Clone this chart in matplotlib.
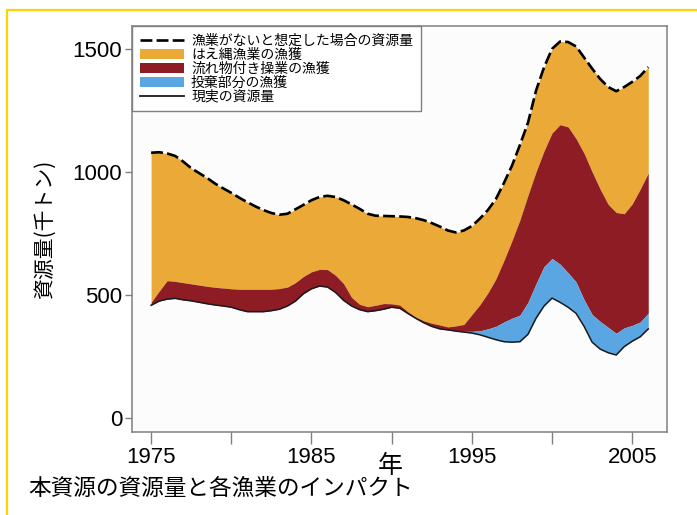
"""
Stacked biomass / catch impact chart (Japanese labels).
"""

import numpy as np
import matplotlib
matplotlib.use("Agg")
import matplotlib.pyplot as plt
from matplotlib.patches import Rectangle, Patch
from matplotlib.lines import Line2D

JP_FONT = ["Noto Sans CJK JP", "DejaVu Sans"]
NUM_FONT = ["Liberation Sans", "DejaVu Sans"]

# --- data (thousand tonnes), half-year steps ---
years = np.arange(1975.0, 2006.01, 0.5)

biomass_unfished = [
    1078, 1080, 1075, 1065, 1042, 1015, 995, 975, 952, 933,
    915, 895, 877, 860, 845, 833, 826, 830, 848, 866,
    885, 898, 903, 898, 885, 868, 850, 830, 822, 821,
    820, 819, 817, 812, 804, 792, 778, 762, 754, 762,
    780, 810, 845, 890, 955, 1025, 1110, 1200, 1330, 1425,
    1500, 1530, 1528, 1510, 1465, 1420, 1378, 1345, 1328, 1345,
    1366, 1390, 1426,
]

# upper edge of the drifting-object (FAD) purse seine catch
upper_fad = [
    470, 515, 558, 555, 550, 545, 540, 535, 531, 528,
    525, 523, 523, 523, 523, 523, 526, 532, 550, 575,
    594, 604, 603, 580, 546, 490, 462, 452, 458, 465,
    464, 459, 432, 410, 395, 385, 378, 370, 374, 380,
    420, 460, 508, 565, 640, 720, 805, 905, 1000, 1085,
    1158, 1192, 1183, 1135, 1075, 1000, 930, 868, 835, 830,
    870, 930, 995,
]

# upper edge of the discarded catch
upper_discard = [
    458, 475, 483, 486, 480, 476, 470, 464, 459, 455,
    450, 440, 432, 432, 432, 436, 442, 455, 475, 505,
    525, 536, 532, 510, 478, 455, 440, 432, 436, 442,
    450, 446, 425, 405, 387, 372, 362, 358, 353, 352,
    352, 354, 362, 372, 390, 405, 418, 470, 545, 615,
    648, 625, 590, 552, 480, 420, 392, 368, 344, 366,
    376, 390, 426,
]

biomass_actual = [
    458, 475, 483, 486, 480, 476, 470, 464, 459, 455,
    450, 440, 432, 432, 432, 436, 442, 455, 475, 505,
    525, 536, 532, 510, 478, 455, 440, 432, 436, 442,
    450, 446, 425, 405, 387, 372, 362, 358, 353, 349,
    345, 338, 328, 318, 310, 308, 310, 340, 405, 455,
    487, 470, 450, 425, 372, 308, 280, 265, 256, 290,
    312, 330, 362,
]

legend_labels = [
    "漁業がないと想定した場合の資源量",
    "はえ縄漁業の漁獲",
    "流れ物付き操業の漁獲",
    "投棄部分の漁獲",
    "現実の資源量",
]
y_ticks = [0, 500, 1000, 1500]
x_ticks = [1975, 1980, 1985, 1990, 1995, 2000, 2005]
x_tick_labels = ["1975", "", "1985", "", "1995", "", "2005"]

C_LONGLINE = "#EBA937"
C_FAD = "#8E1C24"
C_DISCARD = "#5AA6E2"
C_SPINE = "#808080"

fig = plt.figure(figsize=(6.97, 5.15), dpi=100)
ax = fig.add_axes([0.1894, 0.1612, 0.7676, 0.7883])

ax.fill_between(years, upper_fad, biomass_unfished, color=C_LONGLINE, lw=0)
ax.fill_between(years, upper_discard, upper_fad, color=C_FAD, lw=0)
ax.fill_between(years, biomass_actual, upper_discard, color=C_DISCARD, lw=0)
ax.plot(years, biomass_actual, color="#1a1a1a", lw=1.1)
ax.plot(years, biomass_unfished, color="black", lw=1.9, dashes=(4.5, 1.6))

ax.set_xlim(1973.81, 2007.17)
ax.set_ylim(-57, 1593)
ax.set_facecolor("#fcfcfc")

ax.set_yticks(y_ticks)
ax.set_yticklabels([str(v) for v in y_ticks])
ax.set_xticks(x_ticks)
ax.set_xticklabels(x_tick_labels)
ax.tick_params(axis="y", length=5, width=1, color=C_SPINE, pad=2,
               labelsize=16)
ax.tick_params(axis="x", length=8.5, width=1, color=C_SPINE, pad=2,
               labelsize=16)
for lab in ax.get_xticklabels() + ax.get_yticklabels():
    lab.set_family(NUM_FONT)
for sp in ax.spines.values():
    sp.set_color(C_SPINE)
    sp.set_linewidth(1.1)

handles = [
    Line2D([], [], color="black", lw=1.9, dashes=(4.5, 1.6)),
    Patch(facecolor=C_LONGLINE),
    Patch(facecolor=C_FAD),
    Patch(facecolor=C_DISCARD),
    Line2D([], [], color="#1a1a1a", lw=1.3),
]
leg = ax.legend(handles, legend_labels, loc="upper left",
                bbox_to_anchor=(0, 1), borderaxespad=0,
                prop={"family": JP_FONT, "size": 10},
                labelspacing=0.0, handlelength=3.2, handleheight=0.75,
                handletextpad=0.5, borderpad=0.55, fancybox=False,
                framealpha=1, edgecolor=C_SPINE)
leg.get_frame().set_linewidth(1.0)

fig.text(45 / 697, 1 - 229 / 515, "資源量(千トン)", rotation=90,
         ha="center", va="center", family=JP_FONT, fontsize=15)
fig.text(390 / 697, 1 - 466 / 515, "年", ha="center", va="center",
         family=JP_FONT, fontsize=18)
fig.text(28 / 697, 1 - 488 / 515, "本資源の資源量と各漁業のインパクト",
         ha="left", va="center", family=JP_FONT, fontsize=16.3)

# yellow frame around the figure
fig.patches.append(Rectangle((7 / 697, -0.1), 1.2, 1 - 10 / 515 + 0.1,
                             transform=fig.transFigure, fill=False,
                             edgecolor="#FFD200", lw=1.6))

fig.savefig("out.png", dpi=100)
